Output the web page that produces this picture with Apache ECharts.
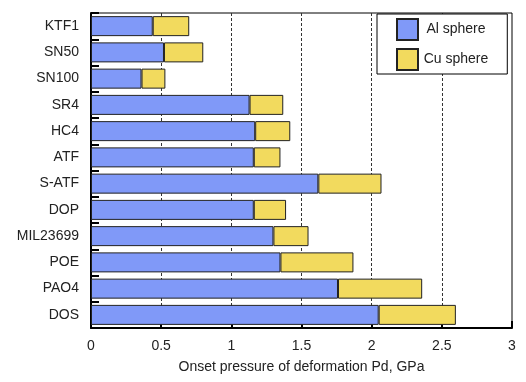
<!DOCTYPE html>
<html><head><meta charset="utf-8">
<script src="https://cdn.jsdelivr.net/npm/echarts@6/dist/echarts.min.js"></script>
<style>html,body{margin:0;padding:0;background:#fff}#c{width:526px;height:382px}</style>
</head><body><div id="c"></div>
<script>
const categories = ['KTF1','SN50','SN100','SR4','HC4','ATF','S-ATF','DOP','MIL23699','POE','PAO4','DOS'];
const alSphere = [0.44,0.52,0.36,1.13,1.17,1.16,1.62,1.16,1.30,1.35,1.76,2.05];
const cuSphereTotal = [0.70,0.80,0.53,1.37,1.42,1.35,2.07,1.39,1.55,1.87,2.36,2.60];
const cuSphere = cuSphereTotal.map((t,i)=>+(t-alSphere[i]).toFixed(3));
const xTicks = [0,0.5,1,1.5,2,2.5,3];

const font = 'Liberation Sans, Arial, sans-serif';
const chart = echarts.init(document.getElementById('c'));
chart.setOption({
  animation:false,
  backgroundColor:'#fff',
  grid:{left:91,right:14,top:13,bottom:54,show:true,borderColor:'#000',borderWidth:1,containLabel:false},
  legend:{
    data:['Al sphere','Cu sphere'],
    orient:'vertical', left:377, top:14,
    itemWidth:21, itemHeight:21, itemGap:7,
    padding:[4,19,3,19],
    borderColor:'#000', borderWidth:1, backgroundColor:'#fff',
    formatter:n=>'{t|'+n+'}',
    textStyle:{fontFamily:font,fontSize:14,color:'#222',
      rich:{t:{width:66,align:'center',fontFamily:font,fontSize:14,color:'#222'}}},
    icon:'rect'
  },
  xAxis:{
    type:'value', min:0, max:3, interval:0.5,
    name:'Onset pressure of deformation Pd, GPa', nameLocation:'middle', nameGap:32,
    nameTextStyle:{fontFamily:font,fontSize:14,color:'#222'},
    axisLine:{show:true,lineStyle:{color:'#000',width:2}},
    axisTick:{show:true,inside:true,length:7,lineStyle:{color:'#000',width:2}},
    axisLabel:{fontFamily:font,fontSize:14,color:'#222',margin:11,
      formatter:v=>{const i=xTicks.indexOf(v);return i>=0?String(xTicks[i]):'';}},
    splitLine:{show:true,showMinLine:false,showMaxLine:false,lineStyle:{color:'#333',width:1,type:[3,2]}}
  },
  yAxis:{
    type:'category', data:categories, inverse:true,
    axisLine:{show:true,lineStyle:{color:'#000',width:2}},
    axisTick:{show:true,inside:true,length:8,lineStyle:{color:'#000',width:2}},
    axisLabel:{fontFamily:font,fontSize:14,color:'#222',margin:12},
    splitLine:{show:false}
  },
  series:[
    {name:'Al sphere',type:'bar',stack:'s',data:alSphere,barWidth:20,
     itemStyle:{color:'#8099f8',borderColor:'#222',borderWidth:1}},
    {name:'Cu sphere',type:'bar',stack:'s',data:cuSphere,barWidth:20,
     itemStyle:{color:'#f2da5e',borderColor:'#222',borderWidth:1}}
  ]
});
</script></body></html>
